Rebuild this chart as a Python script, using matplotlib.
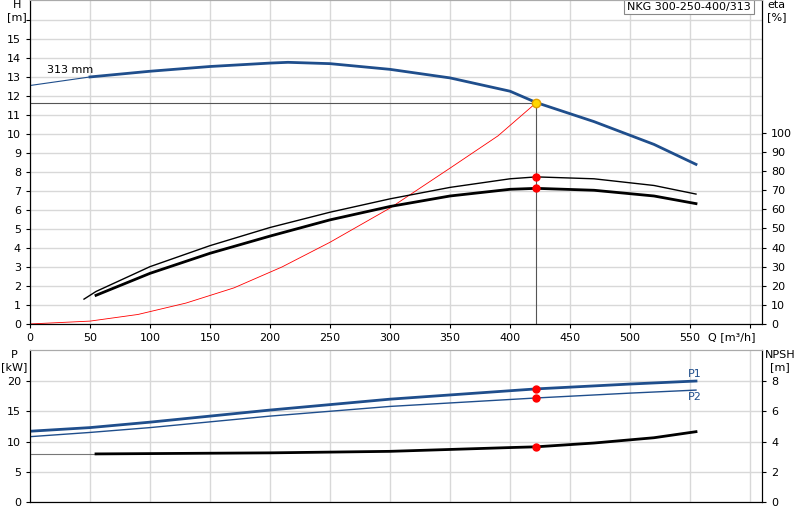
import matplotlib.pyplot as plt
import numpy as np

# head curve, 313 mm impeller
q_h = [0, 50, 100, 150, 200, 215, 250, 300, 350, 400, 422, 470, 520, 555]
h = [12.55, 13.0, 13.3, 13.55, 13.73, 13.77, 13.7, 13.4, 12.95, 12.25, 11.65, 10.65, 9.45, 8.4]
# system curve
q_sys = [0, 50, 90, 130, 170, 210, 250, 300, 350, 390, 422]
h_sys = [0, 0.15, 0.5, 1.1, 1.9, 3.0, 4.3, 6.1, 8.2, 9.9, 11.65]
# efficiency curves
q_eta1 = [45, 55, 100, 150, 200, 250, 300, 350, 400, 422, 470, 520, 555]
eta1 = [13, 17, 30, 41, 50.5, 58.5, 65.5, 71.5, 76, 77, 76, 72.5, 68]
q_eta2 = [55, 100, 150, 200, 250, 300, 350, 400, 422, 470, 520, 555]
eta2 = [15, 26.5, 37, 46, 54.5, 61.5, 67, 70.5, 71, 70, 67, 63]
# power
q_p = [0, 50, 100, 200, 300, 422, 500, 555]
p1 = [11.7, 12.3, 13.2, 15.2, 17.0, 18.7, 19.5, 20.0]
p2 = [10.8, 11.5, 12.3, 14.2, 15.8, 17.2, 18.0, 18.5]
# NPSH
q_npsh = [55, 200, 300, 400, 422, 470, 520, 555]
npsh = [3.18, 3.25, 3.35, 3.6, 3.65, 3.9, 4.25, 4.65]

q_op, h_op = 422, 11.65
eta1_op, eta2_op = 77, 71
p1_op, p2_op, npsh_op = 18.7, 17.2, 3.65

blue = '#1f4e8c'
gridc = '#d8d8d8'
fs = 8

fig = plt.figure(figsize=(8, 5.2), dpi=100)
ax = fig.add_axes([0.0375, 0.377, 0.915, 0.623])
ax2 = ax.twinx()
bx = fig.add_axes([0.0375, 0.0346, 0.915, 0.292])
bx2 = bx.twinx()

for a in (ax, ax2, bx, bx2):
    a.tick_params(labelsize=fs, length=3)
    a.spines['top'].set_color('#aaaaaa')

# upper chart
ax.set_xlim(0, 610)
ax.set_ylim(0, 17.05)
ax2.set_ylim(0, 17.05 * 19 / 1.91)
ax.set_xticks(range(0, 601, 50))
ax.set_xticklabels([str(v) if v <= 550 else '' for v in range(0, 601, 50)])
ax.set_yticks(range(0, 17))
ax.set_yticklabels([str(v) if v <= 15 else '' for v in range(0, 17)])
ax2.set_yticks(range(0, 101, 10))
ax.grid(True, color=gridc, lw=1)
ax.set_axisbelow(True)

ax.plot(q_h[:2], h[:2], color=blue, lw=0.8)
ax.plot(q_h[1:], h[1:], color=blue, lw=2)
ax.plot(q_sys, h_sys, color='red', lw=0.6)
ax2.plot(q_eta1, eta1, color='black', lw=1)
ax2.plot(q_eta2, eta2, color='black', lw=2)
ax.plot([0, q_op], [h_op, h_op], color='#555555', lw=0.8)
ax.plot([q_op, q_op], [0, h_op], color='#555555', lw=0.8)
ax2.plot([q_op, q_op], [eta1_op, eta2_op], 'o', color='red', ms=5, zorder=5)
ax.plot(q_op, h_op, 'o', color='#ffd700', mec='#e0a000', ms=6, zorder=6)
ax.text(14, 13.2, '313 mm', fontsize=fs)
ax.text(-0.018, 1.0, 'H\n[m]', transform=ax.transAxes, fontsize=fs, ha='center', va='top')
ax2.text(1.02, 1.0, 'eta\n[%]', transform=ax.transAxes, fontsize=fs, ha='center', va='top')
ax.text(585, -0.45, 'Q [m³/h]', fontsize=fs, ha='center', va='top')
ax.text(0.985, 0.995, 'NKG 300-250-400/313', transform=ax.transAxes, fontsize=fs,
        ha='right', va='top', bbox=dict(fc='white', ec='#888888', lw=0.8, pad=2))

# lower chart
bx.set_xlim(0, 610)
bx.set_ylim(0, 25.1)
bx2.set_ylim(0, 10.04)
bx.set_xticks(range(0, 601, 50))
bx.set_xticklabels([])
bx.tick_params(axis='x', length=0)
bx.set_yticks(range(0, 21, 5))
bx2.set_yticks(range(0, 9, 2))
bx.grid(True, color=gridc, lw=1)
bx.set_axisbelow(True)

bx.plot(q_p, p1, color=blue, lw=2)
bx.plot(q_p, p2, color=blue, lw=1)
bx2.plot([0, q_npsh[0]], [npsh[0], npsh[0]], color='#777777', lw=0.8)
bx2.plot(q_npsh, npsh, color='black', lw=2)
bx.plot([q_op, q_op], [p1_op, p2_op], 'o', color='red', ms=5, zorder=5)
bx2.plot(q_op, npsh_op, 'o', color='red', ms=5, zorder=5)
bx.text(548, 20.6, 'P1', color=blue, fontsize=fs)
bx.text(548, 16.8, 'P2', color=blue, fontsize=fs)
bx.text(-0.022, 1.0, 'P\n[kW]', transform=bx.transAxes, fontsize=fs, ha='center', va='top')
bx2.text(1.025, 1.0, 'NPSH\n[m]', transform=bx.transAxes, fontsize=fs, ha='center', va='top')

fig.savefig('out.png', dpi=100)
